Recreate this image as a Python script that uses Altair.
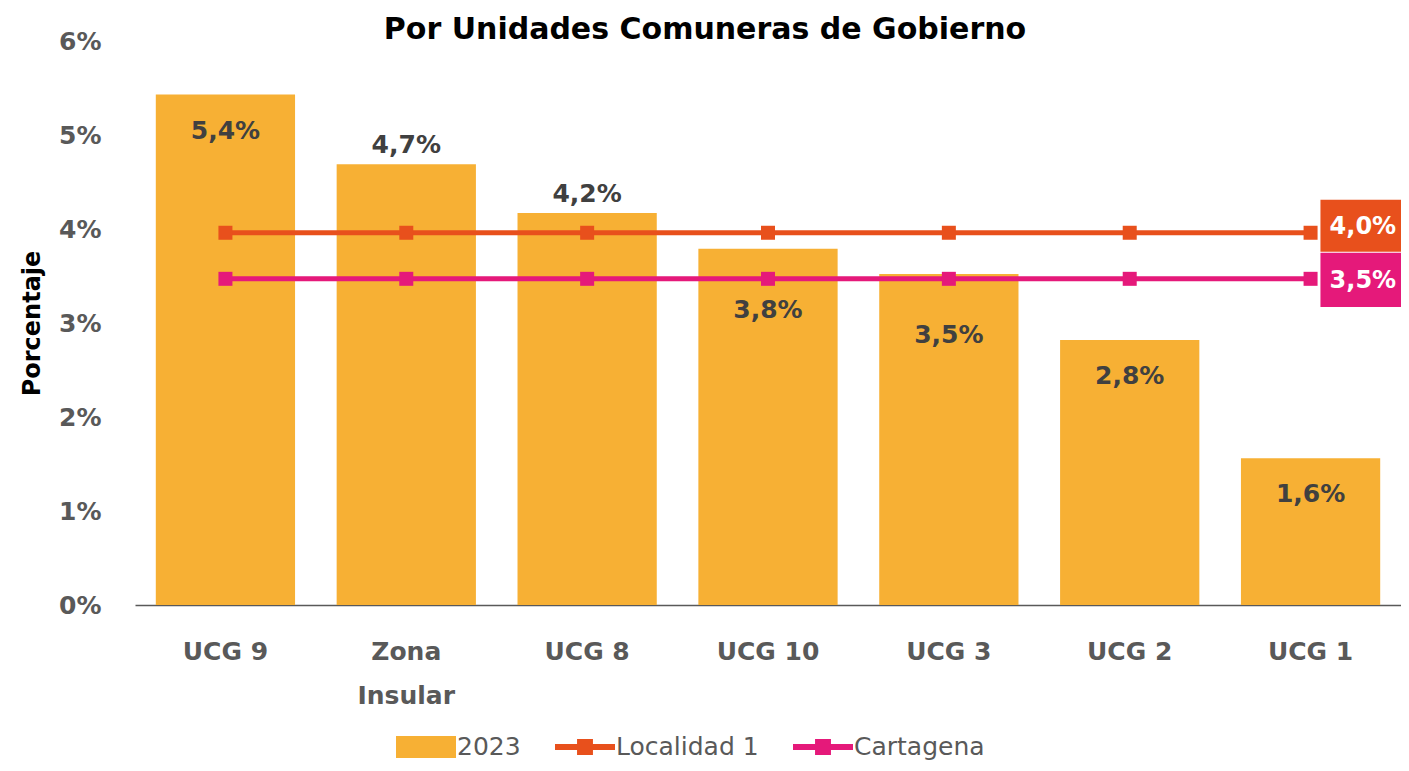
import altair as alt
import pandas as pd

categories = ["UCG 9", "Zona Insular", "UCG 8", "UCG 10", "UCG 3", "UCG 2", "UCG 1"]
values_2023 = [5.43, 4.69, 4.17, 3.79, 3.52, 2.82, 1.56]
localidad_1 = [3.96, 3.96, 3.96, 3.96, 3.96, 3.96, 3.96]
cartagena = [3.47, 3.47, 3.47, 3.47, 3.47, 3.47, 3.47]
y_ticks = [0, 1, 2, 3, 4, 5, 6]

series_names = ["2023", "Localidad 1", "Cartagena"]
series_colors = ["#F7B034", "#E8501C", "#E5197A"]

labels_above = ["Zona Insular", "UCG 8"]
labels_low = ["UCG 10", "UCG 3"]

FONT = "DejaVu Sans"
GREY = "#595959"
DARK = "#404040"

bars_df = pd.DataFrame({"cat": categories, "value": values_2023})
lines_df = pd.DataFrame({
    "cat": categories * 2,
    "value": localidad_1 + cartagena,
    "series": ["Localidad 1"] * len(categories) + ["Cartagena"] * len(categories),
})
legend_df = pd.DataFrame({"cat": [categories[0]] * 3, "value": [0, 0, 0], "series": series_names})

label_expr = "replace(format(datum.value, '.1f'), '.', ',') + '%'"

x_enc = alt.X(
    "cat:N",
    sort=categories,
    scale=alt.Scale(paddingInner=0.23, paddingOuter=0.115),
    axis=alt.Axis(
        title=None,
        labelExpr="datum.label == 'Zona Insular' ? ['Zona', 'Insular'] : datum.label",
        labelFont=FONT, labelFontSize=25, labelFontWeight="bold", labelColor=GREY,
        labelLineHeight=44, labelPadding=34, labelAngle=0,
        ticks=False, domain=True, domainColor=GREY, domainWidth=1.5,
    ),
)
y_enc = alt.Y(
    "value:Q",
    scale=alt.Scale(domain=[0, 6]),
    axis=alt.Axis(
        title="Porcentaje", values=y_ticks,
        labelExpr="datum.value + '%'",
        labelFont=FONT, labelFontSize=25, labelFontWeight="bold", labelColor=GREY,
        labelPadding=34, ticks=False, domain=False, grid=False,
        titleFont=FONT, titleFontSize=24, titleFontWeight="bold", titleColor="black",
        titlePadding=14,
    ),
)

bars = alt.Chart(bars_df).mark_bar(color=series_colors[0]).encode(x=x_enc, y=y_enc)

base_text = alt.Chart(bars_df).transform_calculate(label=label_expr)
txt_kw = dict(font=FONT, fontSize=25, fontWeight="bold", color=DARK, baseline="middle")
text_inside = base_text.transform_filter(
    alt.FieldOneOfPredicate(field="cat", oneOf=[c for c in categories if c not in labels_above + labels_low])
).mark_text(dy=36, **txt_kw).encode(x=alt.X("cat:N", sort=categories), y="value:Q", text="label:N")
text_low = base_text.transform_filter(
    alt.FieldOneOfPredicate(field="cat", oneOf=labels_low)
).mark_text(dy=61, **txt_kw).encode(x=alt.X("cat:N", sort=categories), y="value:Q", text="label:N")
text_above = base_text.transform_filter(
    alt.FieldOneOfPredicate(field="cat", oneOf=labels_above)
).mark_text(dy=-19, **txt_kw).encode(x=alt.X("cat:N", sort=categories), y="value:Q", text="label:N")

layers = [bars, text_inside, text_low, text_above]

box_shapes = {
    "Localidad 1": "M0.38,-1.27H4V0.73H0.38Z",
    "Cartagena": "M0.38,-1H4V1.08H0.38Z",
}
box_text_dy = {"Localidad 1": -6, "Cartagena": 2}

for name, col in zip(series_names[1:], series_colors[1:]):
    sdf = alt.Chart(lines_df).transform_filter(alt.datum.series == name)
    layers.append(sdf.mark_line(color=col, strokeWidth=5).encode(
        x=alt.X("cat:N", sort=categories), y="value:Q"))
    layers.append(sdf.mark_square(color=col, size=196, opacity=1).encode(
        x=alt.X("cat:N", sort=categories), y="value:Q"))

for name, col in zip(series_names[1:], series_colors[1:]):
    last = alt.Chart(lines_df).transform_filter(
        (alt.datum.series == name) & (alt.datum.cat == categories[-1])
    ).transform_calculate(label=label_expr)
    layers.append(last.mark_point(shape=box_shapes[name], filled=True, color=col,
                                  size=2704, opacity=1, strokeWidth=0).encode(
        x=alt.X("cat:N", sort=categories), y="value:Q"))
    layers.append(last.mark_text(font=FONT, fontSize=24, fontWeight="bold", color="white",
                                 align="left", baseline="middle", dx=19,
                                 dy=box_text_dy[name]).encode(
        x=alt.X("cat:N", sort=categories), y="value:Q", text="label:N"))

legend_shapes = [
    "M-2,-0.73H2V0.73H-2Z",
    "M-2,-0.2H2V0.2H-2Z M-0.53,-0.53H0.53V0.53H-0.53Z",
    "M-2,-0.2H2V0.2H-2Z M-0.53,-0.53H0.53V0.53H-0.53Z",
]
leg = alt.Legend(
    title=None, orient="none", legendX=276, legendY=691, direction="horizontal",
    symbolSize=900, symbolStrokeWidth=0, symbolOpacity=1,
    labelFont=FONT, labelFontSize=25, labelColor=GREY, labelFontWeight="normal",
    labelOffset=16, columnPadding=34,
)
legend_layer = alt.Chart(legend_df).transform_filter("false").mark_point(
    filled=True, strokeWidth=0
).encode(
    x=alt.X("cat:N", sort=categories), y="value:Q",
    color=alt.Color("series:N", scale=alt.Scale(domain=series_names, range=series_colors), legend=leg),
    shape=alt.Shape("series:N", scale=alt.Scale(domain=series_names, range=legend_shapes), legend=leg),
)
layers.append(legend_layer)

chart = alt.layer(*layers).properties(
    width=1266,
    height=564,
    padding={"left": 127, "top": 33, "right": 0, "bottom": 158},
    autosize=alt.AutoSizeParams(type="none"),
    title=alt.TitleParams(
        "Por Unidades Comuneras de Gobierno", font=FONT, fontSize=30, fontWeight="bold",
        color="black", anchor="middle", dx=-63, offset=-16,
    ),
).configure_view(stroke=None)

chart.save("out.html", embed_options={"renderer": "svg", "actions": False})
